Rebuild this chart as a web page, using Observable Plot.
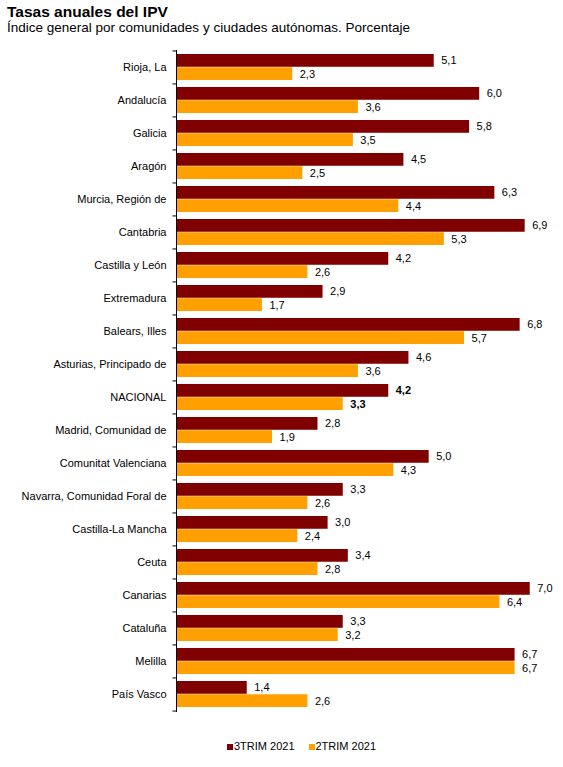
<!DOCTYPE html>
<html>
<head>
<meta charset="utf-8">
<script src="https://cdn.jsdelivr.net/npm/d3@7"></script>
<script src="https://cdn.jsdelivr.net/npm/@observablehq/plot@0.6"></script>
<style>
  body { margin: 0; background: #fff; font-family: "Liberation Sans", Arial, sans-serif; color: #000; }
  #head { height: 40px; padding-left: 7px; box-sizing: border-box; }
  #title { font-size: 15.5px; font-weight: bold; padding-top: 3px; line-height: 17px; }
  #sub { font-size: 13.5px; line-height: 16px; }
  #legend { height: 42px; display: flex; justify-content: center; align-items: center; font-size: 11px; gap: 14px; padding-left: 40px; box-sizing: border-box; }
  #legend span i { display: inline-block; width: 6px; height: 6px; margin-right: 1px; }
</style>
</head>
<body>
<div id="head">
  <div id="title">Tasas anuales del IPV</div>
  <div id="sub">Índice general por comunidades y ciudades autónomas. Porcentaje</div>
</div>
<div id="chart"></div>
<div id="legend"></div>
<script>
const regions = ["Rioja, La", "Andalucía", "Galicia", "Aragón", "Murcia, Región de", "Cantabria",
  "Castilla y León", "Extremadura", "Balears, Illes", "Asturias, Principado de", "NACIONAL",
  "Madrid, Comunidad de", "Comunitat Valenciana", "Navarra, Comunidad Foral de",
  "Castilla-La Mancha", "Ceuta", "Canarias", "Cataluña", "Melilla", "País Vasco"];
const trim3 = [5.1, 6.0, 5.8, 4.5, 6.3, 6.9, 4.2, 2.9, 6.8, 4.6, 4.2, 2.8, 5.0, 3.3, 3.0, 3.4, 7.0, 3.3, 6.7, 1.4];
const trim2 = [2.3, 3.6, 3.5, 2.5, 4.4, 5.3, 2.6, 1.7, 5.7, 3.6, 3.3, 1.9, 4.3, 2.6, 2.4, 2.8, 6.4, 3.2, 6.7, 2.6];
const series = ["3TRIM 2021", "2TRIM 2021"];
const colors = ["#800000", "#FFA000"];

const rows3 = regions.map((r, i) => ({region: r, value: trim3[i]}));
const rows2 = regions.map((r, i) => ({region: r, value: trim2[i]}));

const height = 685, marginTop = 10, marginBottom = 13;
const step = (height - marginTop - marginBottom) / regions.length;
const half = step * 0.8 / 2;
const fmt = v => v.toFixed(1).replace(".", ",");
const isNac = d => d.region === "NACIONAL";
const notNac = d => d.region !== "NACIONAL";

// etiquetas de valor, en negrita solo para NACIONAL
function labels(rows, dy) {
  const opts = {y: "region", x: "value", text: d => fmt(d.value), dy, dx: 7, textAnchor: "start", fill: "#000"};
  return [
    Plot.text(rows, {...opts, filter: notNac}),
    Plot.text(rows, {...opts, filter: isNac, fontWeight: "bold"})
  ];
}

const chart = Plot.plot({
  width: 563,
  height,
  marginLeft: 176,
  marginRight: 8,
  marginTop,
  marginBottom,
  x: {domain: [0, 7.5], axis: null},
  y: {domain: regions, paddingInner: 0.2, paddingOuter: 0.1, label: null, tickSize: 0, tickPadding: 10},
  style: {fontFamily: "Liberation Sans, Arial, sans-serif", fontSize: "11px", color: "#000", background: "#fff"},
  marks: [
    Plot.barX(rows3, {y: "region", x: "value", fill: colors[0], insetBottom: half}),
    Plot.barX(rows2, {y: "region", x: "value", fill: colors[1], insetTop: half}),
    ...labels(rows3, -half / 2),
    ...labels(rows2, half / 2),
    Plot.ruleY(regions, {y: d => d, x1: -0.07, x2: 0, dy: -step / 2, stroke: "#000"}),
    Plot.ruleY(regions.slice(-1), {y: d => d, x1: -0.07, x2: 0, dy: step / 2, stroke: "#000"}),
    Plot.ruleX([0], {stroke: "#000"})
  ]
});
d3.select("#chart").append(() => chart);

d3.select("#legend").selectAll("span").data(series).join("span")
  .html((d, i) => `<i style="background:${colors[i]}"></i>${d}`);
</script>
</body>
</html>
